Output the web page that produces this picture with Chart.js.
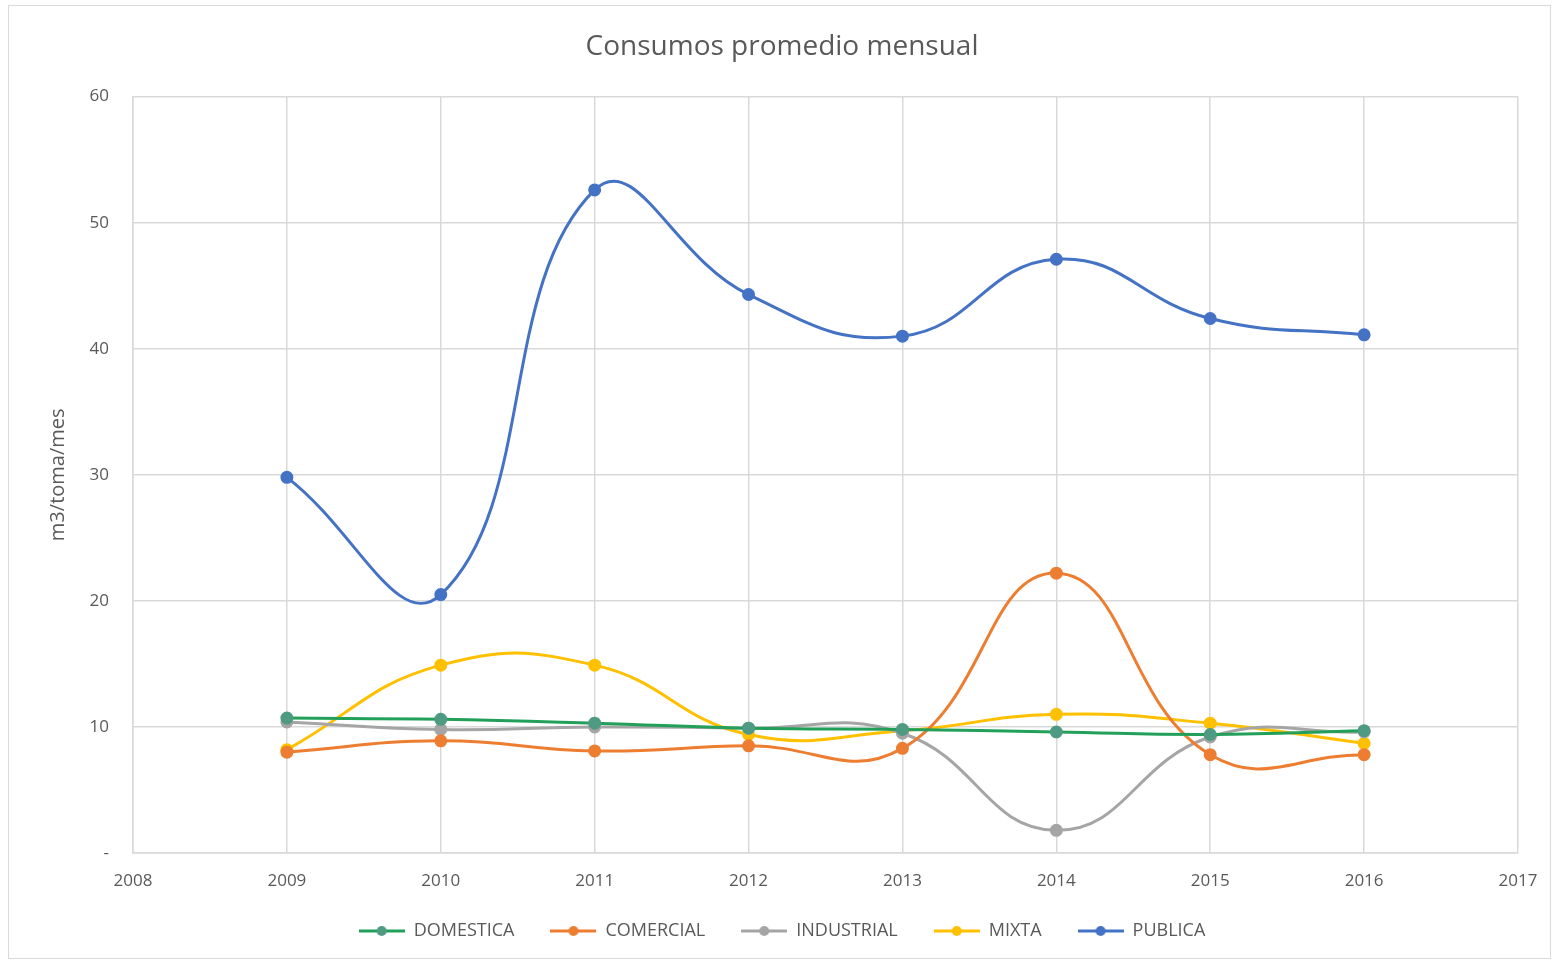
<!DOCTYPE html>
<html>
<head>
<meta charset="utf-8">
<title>Consumos promedio mensual</title>
<script src="https://cdn.jsdelivr.net/npm/chart.js@4.4.1/dist/chart.umd.min.js"></script>
<style>
    html, body { margin: 0; padding: 0; background: #ffffff; }
    #wrap { position: relative; width: 1556px; height: 962px; }
    #frame { position: absolute; left: 8px; top: 5px; right: 5px; bottom: 3px; border: 1px solid #d9d9d9; pointer-events: none; }
</style>
</head>
<body>
<div id="wrap">
    <canvas id="chart"></canvas>
    <div id="frame"></div>
</div>
<script>
// Years on the x axis, and the values per service type (m3/toma/mes)
const years = [2009, 2010, 2011, 2012, 2013, 2014, 2015, 2016];
const domestica  = [10.7, 10.6, 10.3, 9.9, 9.8, 9.6, 9.4, 9.7];
const comercial  = [8.0, 8.9, 8.1, 8.5, 8.3, 22.2, 7.8, 7.8];
const industrial = [10.4, 9.8, 10.0, 9.9, 9.5, 1.8, 9.2, 9.6];
const mixta      = [8.2, 14.9, 14.9, 9.4, 9.7, 11.0, 10.3, 8.7];
const publica    = [29.8, 20.5, 52.6, 44.3, 41.0, 47.1, 42.4, 41.1];

const xTicks = [2008, 2009, 2010, 2011, 2012, 2013, 2014, 2015, 2016, 2017];
const yTicks = [0, 10, 20, 30, 40, 50, 60];

const textColor = '#595959';
const gridColor = '#d9d9d9';

// Legend symbol: short line with a dot in the middle, like Excel
function legendSymbol(color, dotColor) {
    const c = document.createElement('canvas');
    c.width = 46;
    c.height = 12;
    const g = c.getContext('2d');
    g.strokeStyle = color;
    g.lineWidth = 3;
    g.beginPath();
    g.moveTo(0, 6);
    g.lineTo(46, 6);
    g.stroke();
    g.fillStyle = dotColor;
    g.beginPath();
    g.arc(23, 6, 5, 0, Math.PI * 2);
    g.fill();
    return c;
}

function makeSeries(label, values, color, pointColor) {
    return {
        label: label,
        data: years.map((yr, i) => ({ x: yr, y: values[i] })),
        borderColor: color,
        backgroundColor: pointColor || color,
        pointBackgroundColor: pointColor || color,
        pointBorderColor: pointColor || color,
        borderWidth: 3,
        pointRadius: 5,
        pointHoverRadius: 5,
        tension: 0.45,
        fill: false
    };
}

const datasets = [
    makeSeries('DOMESTICA', domestica, '#22a05a', '#4f9a82'),
    makeSeries('COMERCIAL', comercial, '#ed7d31'),
    makeSeries('INDUSTRIAL', industrial, '#a5a5a5'),
    makeSeries('MIXTA', mixta, '#ffc000'),
    makeSeries('PUBLICA', publica, '#4472c4')
];

const fontFamily = "'Open Sans', 'Noto Sans', sans-serif";

new Chart(document.getElementById('chart').getContext('2d'), {
    type: 'line',
    data: { datasets: datasets },
    options: {
        responsive: true,
        maintainAspectRatio: false,
        animation: false,
        layout: { padding: { left: 46, right: 38, top: 0, bottom: 12 } },
        scales: {
            x: {
                type: 'linear',
                min: 2008,
                max: 2017,
                afterBuildTicks: axis => { axis.ticks = xTicks.map(v => ({ value: v })); },
                afterFit: axis => { axis.height = 33; },
                ticks: {
                    color: textColor,
                    font: { family: fontFamily, size: 17 },
                    padding: 18,
                    callback: v => String(v)
                },
                grid: { color: gridColor, lineWidth: 1.5, drawTicks: false },
                border: { color: gridColor, width: 1.5 }
            },
            y: {
                min: 0,
                max: 60,
                afterBuildTicks: axis => { axis.ticks = yTicks.map(v => ({ value: v })); },
                afterFit: axis => { axis.width = 87; },
                ticks: {
                    color: textColor,
                    font: { family: fontFamily, size: 17 },
                    padding: 24,
                    callback: v => (v === 0 ? '-' : String(v))
                },
                title: {
                    display: true,
                    text: 'm3/toma/mes',
                    color: textColor,
                    font: { family: fontFamily, size: 20 },
                    padding: { top: 0, bottom: 0 }
                },
                grid: { color: gridColor, lineWidth: 1.5, drawTicks: false },
                border: { color: gridColor, width: 1.5 }
            }
        },
        plugins: {
            title: {
                display: true,
                text: 'Consumos promedio mensual',
                color: textColor,
                font: { family: fontFamily, size: 28, weight: 'normal' },
                padding: { top: 30, bottom: 33 }
            },
            legend: {
                position: 'bottom',
                labels: {
                    usePointStyle: true,
                    pointStyleWidth: 46,
                    color: textColor,
                    font: { family: fontFamily, size: 18 },
                    padding: 36,
                    generateLabels: chart => chart.data.datasets.map((ds, i) => ({
                        text: ds.label,
                        pointStyle: legendSymbol(ds.borderColor, ds.pointBackgroundColor),
                        fillStyle: ds.borderColor,
                        strokeStyle: ds.borderColor,
                        fontColor: textColor,
                        lineWidth: 0,
                        datasetIndex: i,
                        hidden: !chart.isDatasetVisible(i)
                    }))
                }
            },
            tooltip: { enabled: false }
        }
    }
});
</script>
</body>
</html>
